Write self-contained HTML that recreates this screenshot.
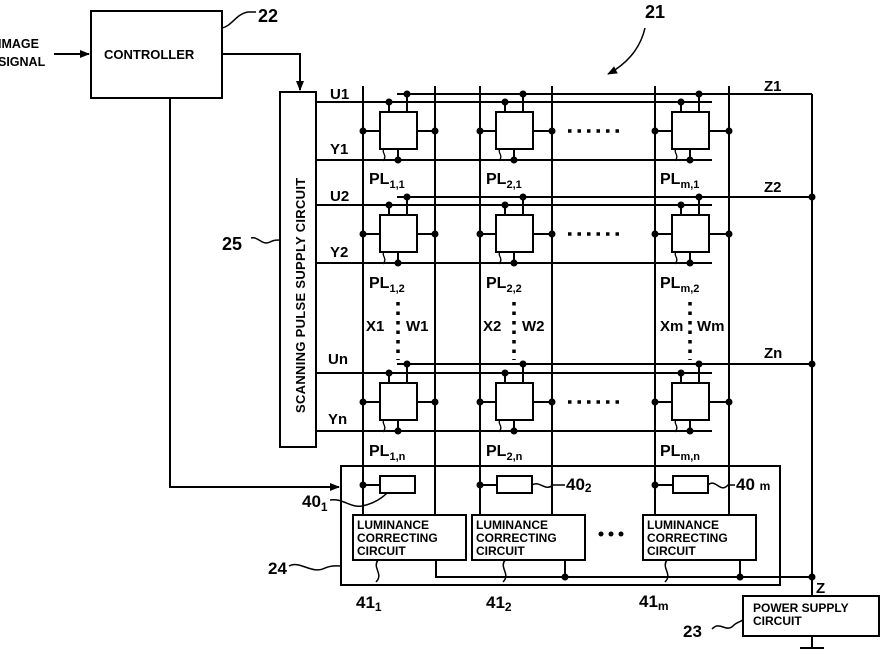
<!DOCTYPE html>
<html><head><style>body{margin:0;background:#fff}svg{display:block}text{font-family:"Liberation Sans",sans-serif;fill:#000;font-weight:bold}</style></head>
<body>
<svg width="884" height="652" viewBox="0 0 884 652" xmlns="http://www.w3.org/2000/svg">
<defs><marker id="ar" markerWidth="10" markerHeight="8" refX="9" refY="4" orient="auto" markerUnits="userSpaceOnUse"><path d="M0,0 L10,4 L0,8 z"/></marker></defs>
<g stroke="#000" stroke-width="2" fill="none">
<rect x="91" y="11" width="131" height="87"/>
<path d="M54,54 H89" marker-end="url(#ar)"/>
<path d="M222,54 H300 V90" marker-end="url(#ar)"/>
<path d="M170,98 V487 H339" marker-end="url(#ar)"/>
<path d="M222,28 C232,26 236,14 248,12 H256" stroke-width="1.5"/>
<rect x="280" y="92" width="36" height="355"/>
<path d="M251,238 C258,236 262,246 270,242 C274,240 276,240 280,240" stroke-width="1.5"/>
<path d="M363,86 V487 M435,86 V520 M480,86 V487 M552,86 V520 M655,86 V487 M729,86 V520"/>
<path d="M812,94 V596 M812,636 V648 M800,648 H824"/>
</g>
<g stroke="#000" stroke-width="2" fill="none">
<path d="M397,94 H812 M316,102 H712 M316,160 H712"/>
<path d="M397,197 H812 M316,205 H712 M316,263 H712"/>
<path d="M397,364 H812 M316,373 H712 M316,431 H712"/>
</g>
<g stroke="#000" stroke-width="2" fill="#fff">
<rect x="380" y="112" width="37" height="37"/><rect x="496" y="112" width="37" height="37"/><rect x="672" y="112" width="37" height="37"/>
<rect x="380" y="215" width="37" height="37"/><rect x="496" y="215" width="37" height="37"/><rect x="672" y="215" width="37" height="37"/>
<rect x="380" y="383" width="37" height="37"/><rect x="496" y="383" width="37" height="37"/><rect x="672" y="383" width="37" height="37"/>
</g>
<g stroke="#000" stroke-width="2" fill="none">
<path d="M389,102 V112 M407,94 V112 M398,149 V160 M363,131 H380 M417,131 H435
M505,102 V112 M523,94 V112 M514,149 V160 M480,131 H496 M533,131 H552
M681,102 V112 M699,94 V112 M690,149 V160 M655,131 H672 M709,131 H729
M389,205 V215 M407,197 V215 M398,252 V263 M363,234 H380 M417,234 H435
M505,205 V215 M523,197 V215 M514,252 V263 M480,234 H496 M533,234 H552
M681,205 V215 M699,197 V215 M690,252 V263 M655,234 H672 M709,234 H729
M389,373 V383 M407,364 V383 M398,420 V431 M363,402 H380 M417,402 H435
M505,373 V383 M523,364 V383 M514,420 V431 M480,402 H496 M533,402 H552
M681,373 V383 M699,364 V383 M690,420 V431 M655,402 H672 M709,402 H729"/>
<path stroke-width="1.3" d="M384,149 c-3,4 4,6 -1,12 M500,149 c-3,4 4,6 -1,12 M676,149 c-3,4 4,6 -1,12 M384,252 c-3,4 4,6 -1,12 M500,252 c-3,4 4,6 -1,12 M676,252 c-3,4 4,6 -1,12 M384,420 c-3,4 4,6 -1,12 M500,420 c-3,4 4,6 -1,12 M676,420 c-3,4 4,6 -1,12"/>
<path stroke-width="3.5" stroke-dasharray="3.5,6" d="M398,302 V360 M514,302 V360 M690,302 V360 M568,131 H622 M568,234 H622 M568,402 H622"/>
<rect x="341" y="466" width="439" height="119"/>
<rect x="380" y="476" width="35" height="17" fill="#fff"/>
<rect x="497" y="476" width="35" height="17" fill="#fff"/>
<rect x="673" y="476" width="35" height="17" fill="#fff"/>
<path d="M363,485 H380 M480,485 H497 M655,485 H673 M363,485 V515 M480,485 V515 M655,485 V515"/>
<rect x="353" y="515" width="113" height="45" fill="#fff"/>
<rect x="472" y="515" width="113" height="45" fill="#fff"/>
<rect x="643" y="515" width="113" height="45" fill="#fff"/>
<path d="M436,560 V577 H812 M565,560 V577 M740,560 V577"/>
<rect x="743" y="596" width="136" height="40"/>
<path stroke-width="1.5" d="M289,566 C300,560 312,575 325,568 C333,565 336,566 341,566 M330,500 C343,498 350,508 362,506 C372,504 380,500 387,493 M532,485 C540,480 545,492 553,485 H565 M708,485 C716,478 720,494 728,485 H735 M378,560 c-6,8 6,14 -2,22 M505,560 c-6,8 6,14 -2,22 M667,560 c-6,8 6,14 -2,22 M712,629 C720,620 726,634 734,625 C737,622 740,622 743,620"/>
<path stroke-width="1.5" d="M645,28 C640,50 625,65 608,74" marker-end="url(#ar)"/>
</g>
<g fill="#000">
<circle cx="407" cy="94" r="3.5"/><circle cx="389" cy="102" r="3.5"/><circle cx="398" cy="160" r="3.5"/><circle cx="363" cy="131" r="3.5"/><circle cx="435" cy="131" r="3.5"/>
<circle cx="523" cy="94" r="3.5"/><circle cx="505" cy="102" r="3.5"/><circle cx="514" cy="160" r="3.5"/><circle cx="480" cy="131" r="3.5"/><circle cx="552" cy="131" r="3.5"/>
<circle cx="699" cy="94" r="3.5"/><circle cx="681" cy="102" r="3.5"/><circle cx="690" cy="160" r="3.5"/><circle cx="655" cy="131" r="3.5"/><circle cx="729" cy="131" r="3.5"/>
<circle cx="407" cy="197" r="3.5"/><circle cx="389" cy="205" r="3.5"/><circle cx="398" cy="263" r="3.5"/><circle cx="363" cy="234" r="3.5"/><circle cx="435" cy="234" r="3.5"/>
<circle cx="523" cy="197" r="3.5"/><circle cx="505" cy="205" r="3.5"/><circle cx="514" cy="263" r="3.5"/><circle cx="480" cy="234" r="3.5"/><circle cx="552" cy="234" r="3.5"/>
<circle cx="699" cy="197" r="3.5"/><circle cx="681" cy="205" r="3.5"/><circle cx="690" cy="263" r="3.5"/><circle cx="655" cy="234" r="3.5"/><circle cx="729" cy="234" r="3.5"/>
<circle cx="407" cy="364" r="3.5"/><circle cx="389" cy="373" r="3.5"/><circle cx="398" cy="431" r="3.5"/><circle cx="363" cy="402" r="3.5"/><circle cx="435" cy="402" r="3.5"/>
<circle cx="523" cy="364" r="3.5"/><circle cx="505" cy="373" r="3.5"/><circle cx="514" cy="431" r="3.5"/><circle cx="480" cy="402" r="3.5"/><circle cx="552" cy="402" r="3.5"/>
<circle cx="699" cy="364" r="3.5"/><circle cx="681" cy="373" r="3.5"/><circle cx="690" cy="431" r="3.5"/><circle cx="655" cy="402" r="3.5"/><circle cx="729" cy="402" r="3.5"/>
<circle cx="812" cy="197" r="3.5"/><circle cx="812" cy="364" r="3.5"/><circle cx="812" cy="577" r="3.5"/><circle cx="565" cy="577" r="3.5"/><circle cx="740" cy="577" r="3.5"/>
<circle cx="363" cy="485" r="3.5"/><circle cx="480" cy="485" r="3.5"/><circle cx="655" cy="485" r="3.5"/>
<circle cx="601" cy="534" r="2.5"/><circle cx="611" cy="534" r="2.5"/><circle cx="621" cy="534" r="2.5"/>
</g>
<g font-size="14">
<text x="-2" y="48" font-size="12.5">IMAGE</text><text x="-2" y="66" font-size="12.5">SIGNAL</text>
<text x="104" y="59" font-size="13">CONTROLLER</text>
<text x="258" y="22" font-size="18">22</text>
<text x="645" y="18" font-size="18">21</text>
<text x="222" y="250" font-size="18">25</text>
<text transform="translate(305,413) rotate(-90)" font-size="13" letter-spacing="0.3">SCANNING PULSE SUPPLY CIRCUIT</text>
<text x="330" y="99" font-size="15">U1</text><text x="330" y="154" font-size="15">Y1</text>
<text x="330" y="201" font-size="15">U2</text><text x="330" y="257" font-size="15">Y2</text>
<text x="328" y="364" font-size="15">Un</text><text x="328" y="424" font-size="15">Yn</text>
<text x="764" y="91" font-size="15">Z1</text><text x="764" y="192" font-size="15">Z2</text><text x="764" y="358" font-size="15">Zn</text>
<text x="816" y="593" font-size="15">Z</text>
<text x="366" y="331" font-size="15">X1</text><text x="406" y="331" font-size="15">W1</text>
<text x="483" y="331" font-size="15">X2</text><text x="522" y="331" font-size="15">W2</text>
<text x="660" y="331" font-size="15">Xm</text><text x="697" y="331" font-size="15">Wm</text>
<text x="369" y="184" font-size="16">PL<tspan font-size="11" dy="4">1,1</tspan></text>
<text x="486" y="184" font-size="16">PL<tspan font-size="11" dy="4">2,1</tspan></text>
<text x="660" y="184" font-size="16">PL<tspan font-size="11" dy="4">m,1</tspan></text>
<text x="369" y="288" font-size="16">PL<tspan font-size="11" dy="4">1,2</tspan></text>
<text x="486" y="288" font-size="16">PL<tspan font-size="11" dy="4">2,2</tspan></text>
<text x="660" y="288" font-size="16">PL<tspan font-size="11" dy="4">m,2</tspan></text>
<text x="369" y="456" font-size="16">PL<tspan font-size="11" dy="4">1,n</tspan></text>
<text x="486" y="456" font-size="16">PL<tspan font-size="11" dy="4">2,n</tspan></text>
<text x="660" y="456" font-size="16">PL<tspan font-size="11" dy="4">m,n</tspan></text>
<text x="302" y="507" font-size="17">40<tspan font-size="12" dy="4">1</tspan></text>
<text x="566" y="490" font-size="17">40<tspan font-size="12" dy="2">2</tspan></text>
<text x="736" y="490" font-size="17">40 <tspan font-size="12">m</tspan></text>
<g font-size="12"><text x="357" y="529">LUMINANCE</text><text x="357" y="542">CORRECTING</text><text x="357" y="555">CIRCUIT</text>
<text x="476" y="529">LUMINANCE</text><text x="476" y="542">CORRECTING</text><text x="476" y="555">CIRCUIT</text>
<text x="647" y="529">LUMINANCE</text><text x="647" y="542">CORRECTING</text><text x="647" y="555">CIRCUIT</text>
<text x="753" y="612">POWER SUPPLY</text><text x="753" y="625">CIRCUIT</text></g>
<text x="268" y="574" font-size="17">24</text>
<text x="356" y="608" font-size="17">41<tspan font-size="12" dy="3">1</tspan></text>
<text x="486" y="608" font-size="17">41<tspan font-size="12" dy="3">2</tspan></text>
<text x="639" y="607" font-size="17">41<tspan font-size="12" dy="3">m</tspan></text>
<text x="683" y="637" font-size="17">23</text>
</g>
</svg>
</body></html>
